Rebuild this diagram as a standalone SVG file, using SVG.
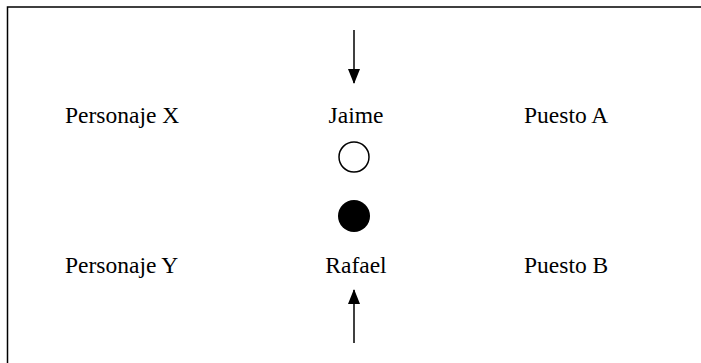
<svg xmlns="http://www.w3.org/2000/svg" width="701" height="363" viewBox="0 0 701 363">
<defs>
<style>
.t{font-family:"Liberation Serif","Times New Roman",serif;font-size:23.5px;fill:#000}
.c{stroke:#000;stroke-width:1.5;fill:none}
</style>
<marker id="ah" viewBox="0 0 15 12" refX="14" refY="6" markerWidth="15" markerHeight="12" markerUnits="userSpaceOnUse" orient="auto">
<path d="M0,0 L15,6 L0,12 Z" fill="#000"/>
</marker>
</defs>
<rect width="701" height="363" fill="#fff"/>
<path d="M7.5,400 L7.5,7 L720,7" fill="none" stroke="#000" stroke-width="1.5"/>
<g id="personajeX"><text class="t" x="65" y="123">Personaje X</text></g>
<g id="jaime"><text class="t" x="356" y="123" text-anchor="middle">Jaime</text></g>
<g id="puestoA"><text class="t" x="524" y="123">Puesto A</text></g>
<g id="personajeY"><text class="t" x="65" y="273">Personaje Y</text></g>
<g id="rafael"><text class="t" x="356" y="273" text-anchor="middle">Rafael</text></g>
<g id="puestoB"><text class="t" x="524" y="273">Puesto B</text></g>
<g id="openCircle"><circle cx="354" cy="157" r="15" fill="#fff" stroke="#000" stroke-width="1.5"/></g>
<g id="filledCircle"><circle cx="354" cy="216" r="16" fill="#000"/></g>
<g id="connectors">
<line class="c" x1="354" y1="30" x2="354" y2="83" marker-end="url(#ah)"/>
<line class="c" x1="354" y1="343" x2="354" y2="290" marker-end="url(#ah)"/>
</g>
</svg>
